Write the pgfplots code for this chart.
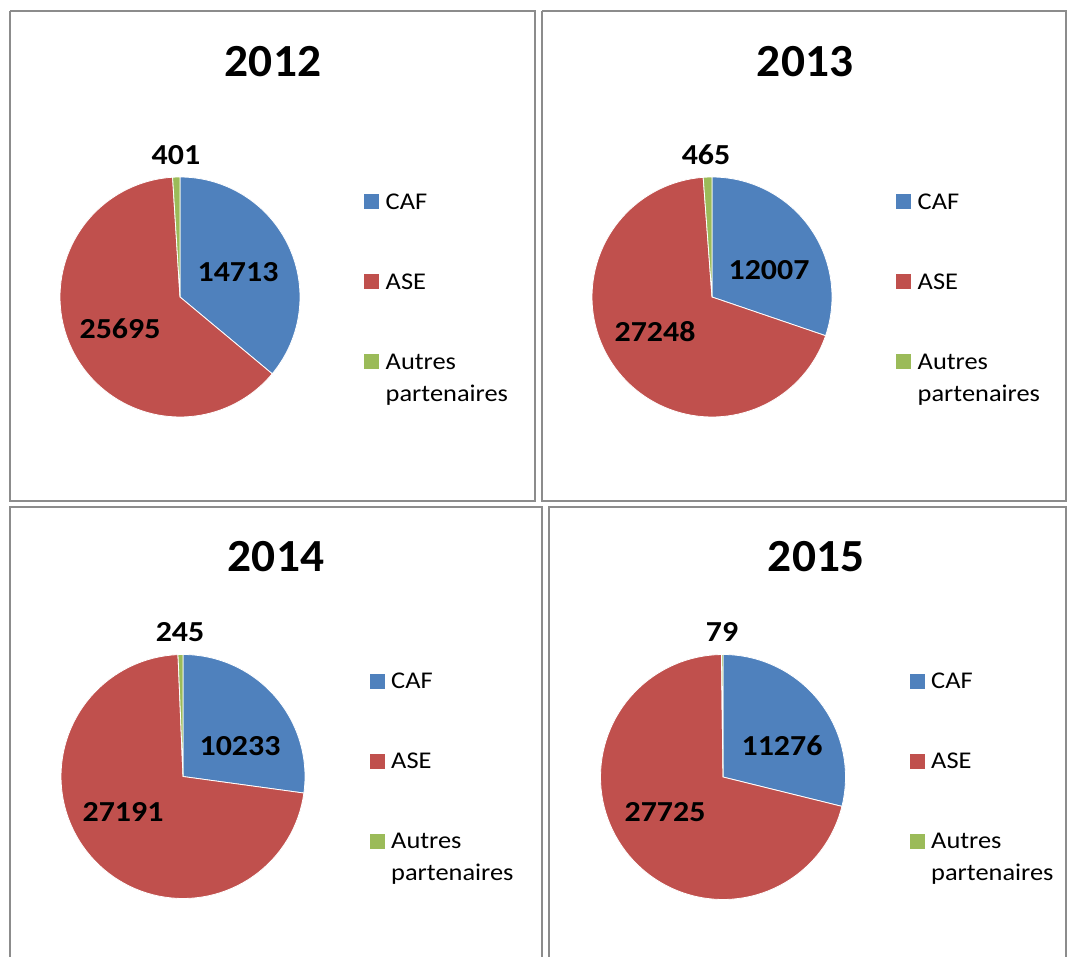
\documentclass[border=0pt]{standalone}
\usepackage{pgfplots}
\pgfplotsset{compat=1.18}
\usepackage{fontspec}
\setmainfont{Carlito}

\definecolor{cafblue}{HTML}{4F81BD}
\definecolor{asered}{HTML}{C0504D}
\definecolor{autgreen}{HTML}{9BBB59}
\definecolor{framegray}{HTML}{8C8C8C}

% one slice: colour, cx, cy, r, start angle, end angle (clockwise from 12 o'clock)
\newcommand{\pieslice}[6]{%
  \edef\temp{\noexpand\addplot[fill=#1, draw=white, line width=0.8pt,
    variable=\noexpand\t, domain=#5:#6, samples=90]
    ({#2+#4*sin(\noexpand\t)}, {#3-#4*cos(\noexpand\t)}) -- (axis cs:#2,#3) -- cycle;}%
  \temp}

% pie: cx, cy, r, CAF, ASE, Autres
\newcommand{\drawpie}[6]{%
  \begingroup
  \pgfkeys{/pgf/fpu=true, /pgf/fpu/output format=fixed}%
  \pgfmathparse{360*#4/(#4+#5+#6)}\xdef\aA{\pgfmathresult}%
  \pgfmathparse{360*(#4+#5)/(#4+#5+#6)}\xdef\aB{\pgfmathresult}%
  \endgroup
  \pieslice{cafblue}{#1}{#2}{#3}{0}{\aA}%
  \pieslice{asered}{#1}{#2}{#3}{\aA}{\aB}%
  \pieslice{autgreen}{#1}{#2}{#3}{\aB}{360}%
}

% legend: square left x, text x, baseline of CAF
\newcommand{\legendblock}[3]{%
  \edef\temp{%
  \noexpand\addplot[fill=cafblue, draw=none] coordinates {(#1,#3-15) (#1+15,#3-15) (#1+15,#3) (#1,#3)} -- cycle;
  \noexpand\addplot[fill=asered, draw=none] coordinates {(#1,#3+65) (#1+15,#3+65) (#1+15,#3+80) (#1,#3+80)} -- cycle;
  \noexpand\addplot[fill=autgreen, draw=none] coordinates {(#1,#3+145) (#1+15,#3+145) (#1+15,#3+160) (#1,#3+160)} -- cycle;
  \noexpand\node[legnode] at (axis cs:#2,#3) {CAF};
  \noexpand\node[legnode] at (axis cs:#2,#3+80) {ASE};
  \noexpand\node[legnode] at (axis cs:#2,#3+160) {Autres};
  \noexpand\node[legnode] at (axis cs:#2,#3+192) {partenaires};}%
  \temp}

\newcommand{\ttlfont}{\fontsize{46}{50}\selectfont\bfseries}
\newcommand{\labfont}{\fontsize{29}{34}\selectfont\bfseries}
\newcommand{\legfont}{\fontsize{24}{28}\selectfont}
\tikzset{
  legnode/.style={anchor=base west, inner sep=0pt, font=\legfont, xscale=1.1},
  labnode/.style={font=\labfont, xscale=1.1},
  ttlnode/.style={font=\ttlfont, xscale=1.03}}

\begin{document}
\begin{tikzpicture}
\begin{axis}[x=1pt, y=1pt, y dir=reverse, scale only axis,
  xmin=0, xmax=1068, ymin=0, ymax=957, hide axis, clip=false]

% frames
\addplot[framegray, line width=2pt] coordinates {(10,11) (535,11) (535,501) (10,501) (10,11)};
\addplot[framegray, line width=2pt] coordinates {(542,11) (1066,11) (1066,501) (542,501) (542,11)};
\addplot[framegray, line width=2pt] coordinates {(10,965) (10,507) (542,507) (542,965)};
\addplot[framegray, line width=2pt] coordinates {(549,965) (549,507) (1066,507) (1066,965)};

% pies: CAF, ASE, Autres partenaires
\drawpie{180}{297}{120}{14713}{25695}{401}
\drawpie{712}{297}{120}{12007}{27248}{465}
\drawpie{183}{776.5}{122}{10233}{27191}{245}
\drawpie{723}{777}{122.5}{11276}{27725}{79}

% titles
\node[ttlnode] at (axis cs:273,62) {2012};
\node[ttlnode] at (axis cs:805,62) {2013};
\node[ttlnode] at (axis cs:276,557) {2014};
\node[ttlnode] at (axis cs:816,557) {2015};

% data labels
\node[labnode] at (axis cs:176,155) {401};
\node[labnode] at (axis cs:238,272) {14713};
\node[labnode] at (axis cs:120,329) {25695};
\node[labnode] at (axis cs:706,155) {465};
\node[labnode] at (axis cs:769,270) {12007};
\node[labnode] at (axis cs:655,332) {27248};
\node[labnode] at (axis cs:180,632) {245};
\node[labnode] at (axis cs:240,746) {10233};
\node[labnode] at (axis cs:123,812) {27191};
\node[labnode] at (axis cs:722,632) {79};
\node[labnode] at (axis cs:782,746) {11276};
\node[labnode] at (axis cs:665,812) {27725};

% legends
\legendblock{364}{385.5}{209.5}
\legendblock{896}{917.5}{209.5}
\legendblock{370}{391}{688.5}
\legendblock{910}{931}{688.5}
\end{axis}
\pgfresetboundingbox
\path[use as bounding box] (0,0) rectangle (1068pt,957pt);
\end{tikzpicture}
\end{document}
